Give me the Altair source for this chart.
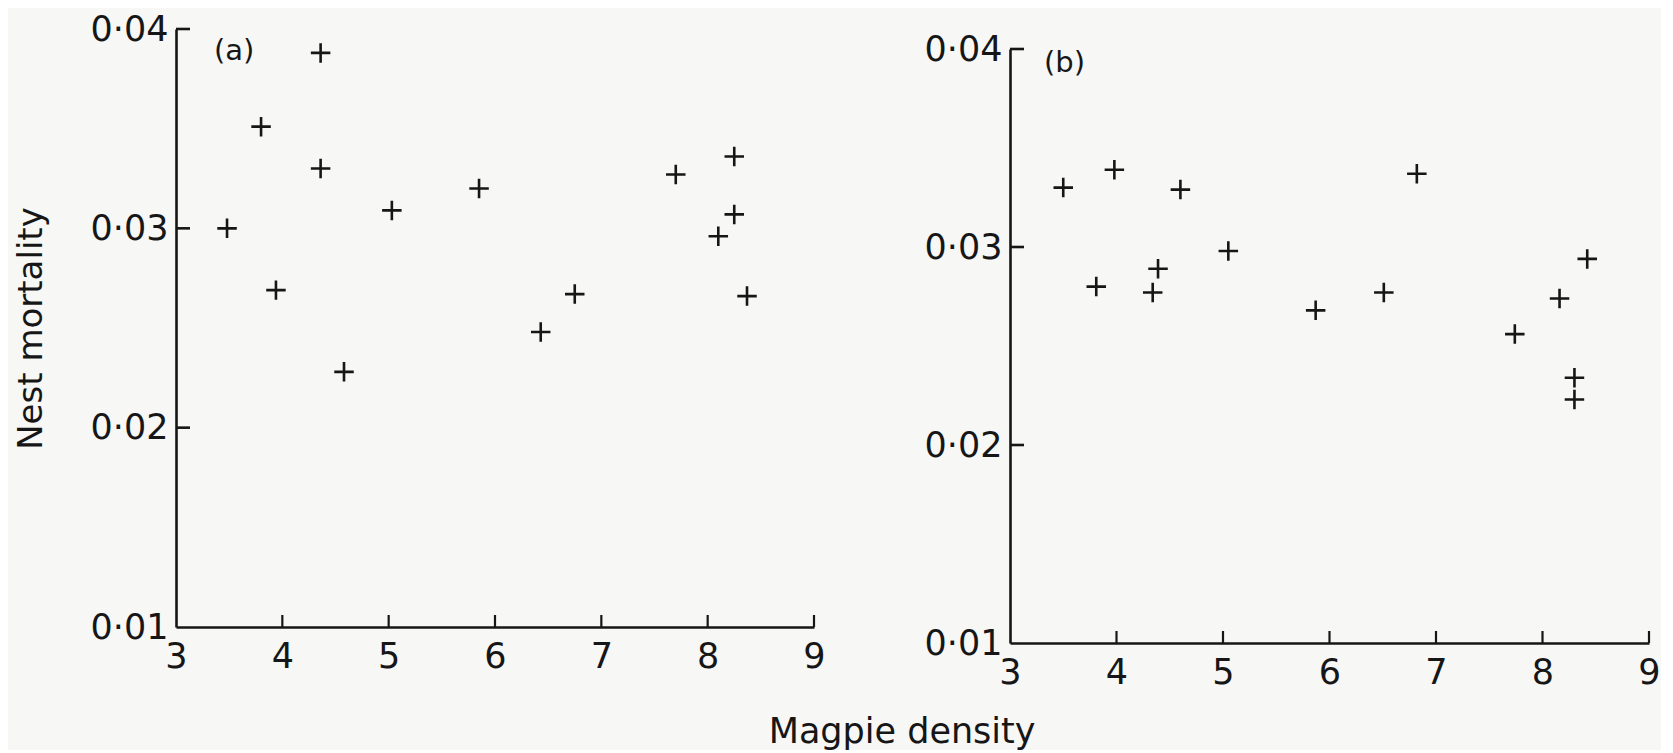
import altair as alt
import pandas as pd

# ---- data ----
a_density = [3.48, 3.80, 3.94, 4.36, 4.36, 4.58, 5.03, 5.85, 6.43, 6.75, 7.70, 8.10, 8.25, 8.25, 8.37]
a_mortality = [0.0300, 0.0351, 0.0269, 0.0388, 0.0330, 0.0228, 0.0309, 0.0320, 0.0248, 0.0267,
               0.0327, 0.0296, 0.0336, 0.0307, 0.0266]
b_density = [3.50, 3.81, 3.98, 4.34, 4.39, 4.60, 5.05, 5.87, 6.51, 6.82, 7.74, 8.16, 8.30, 8.30, 8.42]
b_mortality = [0.0330, 0.0280, 0.0339, 0.0277, 0.0289, 0.0329, 0.0298, 0.0268, 0.0277, 0.0337,
               0.0256, 0.0274, 0.0234, 0.0223, 0.0294]
x_ticks = [3, 4, 5, 6, 7, 8, 9]
y_ticks = [0.01, 0.02, 0.03, 0.04]
panel_labels = ["(a)", "(b)"]
x_title = "Magpie density"
y_title = "Nest mortality"

ink = "#161616"
font = "DejaVu Sans"
CROSS = "M-1,0L1,0M0,-1L0,1"


def panel(xs, ys, label, w, h, y_axis_title, lab_x, lab_y):
    df = pd.DataFrame({"density": xs, "mortality": ys})
    xscale = alt.Scale(domain=[x_ticks[0], x_ticks[-1]], nice=False, zero=False)
    yscale = alt.Scale(domain=[y_ticks[0], y_ticks[-1]], nice=False, zero=False)
    xaxis = alt.Axis(values=x_ticks, ticks=False, labelPadding=12, title=None, format="d",
                     labelFontSize=35, labelFont=font, labelColor=ink,
                     domainColor=ink, domainWidth=2.6, labelFlush=False)
    yaxis_kw = dict(values=y_ticks, ticks=False,
                    labelPadding=8, labelFontSize=35, labelFont=font, labelColor=ink,
                    labelExpr="replace(format(datum.value, '.2f'), '.', '\u00b7')",
                    domainColor=ink, domainWidth=2.6, labelFlush=False)
    if y_axis_title:
        yaxis = alt.Axis(title=y_axis_title, titleFontSize=34, titleFont=font,
                         titleFontWeight="normal", titleColor=ink, titlePadding=42,
                         **yaxis_kw)
    else:
        yaxis = alt.Axis(title=None, **yaxis_kw)

    pts = alt.Chart(df).mark_point(
        shape=CROSS, size=380, filled=False, strokeWidth=2.6, color=ink, opacity=1
    ).encode(
        x=alt.X("density:Q", scale=xscale, axis=xaxis),
        y=alt.Y("mortality:Q", scale=yscale, axis=yaxis),
    )

    # inward-pointing ticks, as drawn in the original
    xt = alt.Chart(pd.DataFrame({"density": x_ticks[1:]})).mark_rule(
        color=ink, strokeWidth=2.2
    ).encode(
        x=alt.X("density:Q", scale=xscale, axis=xaxis),
        y=alt.value(h),
        y2=alt.value(h - 12),
    )
    yt = alt.Chart(pd.DataFrame({"mortality": y_ticks[1:]})).mark_rule(
        color=ink, strokeWidth=2.6
    ).encode(
        y=alt.Y("mortality:Q", scale=yscale, axis=yaxis),
        x=alt.value(0),
        x2=alt.value(14),
    )
    lab = alt.Chart(pd.DataFrame({"label": [label]})).mark_text(
        align="left", baseline="middle", fontSize=29, font=font, color=ink
    ).encode(text="label:N", x=alt.value(lab_x), y=alt.value(lab_y))

    return alt.layer(pts, xt, yt, lab).properties(width=w, height=h)


pa = panel(a_density, a_mortality, panel_labels[0], 638, 598, y_title, 38, 22)
pb = panel(b_density, b_mortality, panel_labels[1], 639, 594, None, 34, 14)

# invisible spacer that lowers panel (b) slightly, as in the scanned original
spacer = alt.Chart(pd.DataFrame({"s": [0]})).mark_point(opacity=0).encode(
    x=alt.value(0), y=alt.value(0)
).properties(width=639, height=2)

right = alt.vconcat(spacer, pb, spacing=0)

chart = alt.hconcat(pa, right, spacing=98).properties(
    padding={"left": 6, "top": 4, "right": 0, "bottom": 0},
    background="#f7f7f6",
    title=alt.TitleParams(x_title, orient="bottom", anchor="middle", dx=65, offset=25,
                          fontSize=35, font=font, fontWeight="normal", color=ink),
).configure_view(stroke=None).configure_axis(grid=False)

chart.save("out.html", embed_options={"renderer": "svg", "actions": False})
